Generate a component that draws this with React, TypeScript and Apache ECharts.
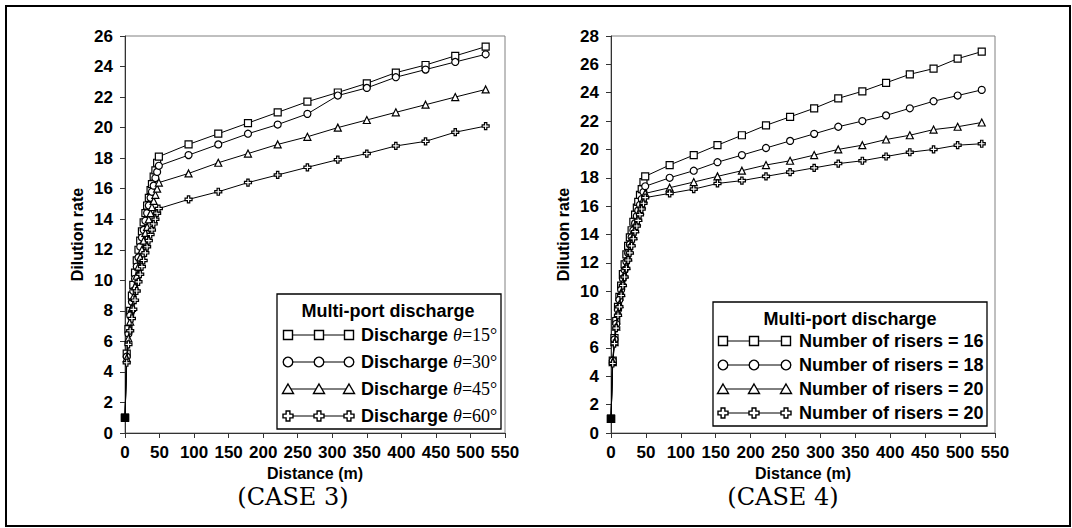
import React, { useEffect, useRef } from "react";
import * as echarts from "echarts";

// ---------- DATA ----------
const case3Distance = [0, 2.5, 5, 7.5, 10, 12, 14.5, 17, 19.5, 22, 24.5, 27, 29.5, 32, 34.5, 37, 39, 41.5, 44, 46.5, 49, 92, 135, 178, 221, 264, 308, 350, 392, 435, 478, 522];
const case3Theta15 = [1, 5.2, 6.8, 8.0, 9.0, 9.7, 10.5, 11.3, 12.0, 12.6, 13.2, 13.8, 14.4, 14.9, 15.4, 15.9, 16.3, 16.8, 17.2, 17.7, 18.1, 18.9, 19.6, 20.3, 21.0, 21.7, 22.3, 22.9, 23.6, 24.1, 24.7, 25.3];
const case3Theta30 = [1, 5.0, 6.5, 7.7, 8.6, 9.3, 10.1, 10.9, 11.5, 12.2, 12.8, 13.3, 13.9, 14.4, 14.9, 15.4, 15.8, 16.2, 16.7, 17.1, 17.5, 18.2, 18.9, 19.6, 20.2, 20.9, 22.1, 22.6, 23.3, 23.8, 24.3, 24.8];
const case3Theta45 = [1, 4.9, 6.2, 7.3, 8.2, 8.9, 9.6, 10.3, 10.9, 11.5, 12.0, 12.6, 13.1, 13.5, 14.0, 14.4, 14.8, 15.2, 15.6, 16.0, 16.4, 17.0, 17.7, 18.3, 18.9, 19.4, 20.0, 20.5, 21.0, 21.5, 22.0, 22.5];
const case3Theta60 = [1, 4.6, 5.8, 6.7, 7.5, 8.1, 8.7, 9.3, 9.9, 10.4, 10.9, 11.3, 11.8, 12.2, 12.6, 13.0, 13.3, 13.7, 14.0, 14.4, 14.7, 15.3, 15.8, 16.4, 16.9, 17.4, 17.9, 18.3, 18.8, 19.1, 19.7, 20.1];

const case4Distance = [0, 2.5, 5, 7.5, 10, 12, 14.5, 17, 19.5, 22, 24.5, 27, 29.5, 32, 34.5, 37, 39, 41.5, 44, 46.5, 49, 84, 118.5, 152.5, 187.5, 222, 256.5, 291, 325.5, 360, 394, 428, 462, 496.5, 531];
const case4Risers16 = [1, 5.1, 6.7, 7.9, 8.9, 9.6, 10.4, 11.2, 11.9, 12.6, 13.2, 13.8, 14.3, 14.9, 15.4, 15.9, 16.3, 16.8, 17.2, 17.7, 18.1, 18.9, 19.6, 20.3, 21.0, 21.7, 22.3, 22.9, 23.6, 24.1, 24.7, 25.3, 25.7, 26.4, 26.9];
const case4Risers18 = [1, 5.1, 6.6, 7.7, 8.7, 9.4, 10.1, 10.9, 11.5, 12.1, 12.7, 13.3, 13.8, 14.3, 14.8, 15.3, 15.7, 16.1, 16.5, 17.0, 17.4, 18.0, 18.5, 19.1, 19.6, 20.1, 20.6, 21.1, 21.6, 22.0, 22.4, 22.9, 23.4, 23.8, 24.2];
const case4Risers20a = [1, 5.0, 6.4, 7.5, 8.5, 9.1, 9.9, 10.6, 11.2, 11.8, 12.4, 12.9, 13.4, 13.9, 14.4, 14.9, 15.2, 15.7, 16.1, 16.5, 16.9, 17.3, 17.7, 18.1, 18.5, 18.9, 19.2, 19.6, 20.0, 20.3, 20.7, 21.0, 21.4, 21.6, 21.9];
const case4Risers20b = [1, 4.9, 6.3, 7.4, 8.3, 8.9, 9.7, 10.4, 11.0, 11.6, 12.2, 12.7, 13.2, 13.7, 14.2, 14.6, 15.0, 15.4, 15.8, 16.2, 16.6, 16.9, 17.2, 17.6, 17.8, 18.1, 18.4, 18.7, 19.0, 19.2, 19.5, 19.8, 20.0, 20.3, 20.4];

const case3Angles = ["15", "30", "45", "60"];
const case4Labels = ["Number of risers = 16", "Number of risers = 18", "Number of risers = 20", "Number of risers = 20"];
const legendTitle = "Multi-port discharge";
const xAxisName = "Distance (m)";
const yAxisName = "Dilution rate";
const captions = ["(CASE 3)", "(CASE 4)"];

// ---------- STYLE ----------
const SANS = '"Liberation Sans", Arial, sans-serif';
const SERIF = '"Liberation Serif", "Times New Roman", serif';
const PLUS_PATH = "path://M4,0 L8,0 L8,4 L12,4 L12,8 L8,8 L8,12 L4,12 L4,8 L0,8 L0,4 L4,4 Z";
const SYMBOLS = ["rect", "circle", "triangle", PLUS_PATH];

function buildSeries(xs: number[], ys: number[], idx: number, axisIdx: number) {
  const data = xs.map((x, i) =>
    i === 0
      ? { value: [x, ys[i]], symbol: "rect", symbolSize: 7, itemStyle: { color: "#000", borderColor: "#000" } }
      : { value: [x, ys[i]] }
  );
  return {
    type: "line",
    xAxisIndex: axisIdx,
    yAxisIndex: axisIdx,
    data,
    symbol: SYMBOLS[idx],
    symbolSize: 7,
    showAllSymbol: true,
    lineStyle: { color: "#000", width: 1 },
    itemStyle: { color: "#fff", borderColor: "#000", borderWidth: 1.2 },
    z: 3 + idx,
    silent: true,
  };
}

function legendSymbol(kind: number, cx: number, cy: number) {
  const st = { fill: "#fff", stroke: "#000", lineWidth: 1.4 };
  if (kind === 0) return { type: "rect", shape: { x: cx - 4.5, y: cy - 4.5, width: 9, height: 9 }, style: st, z: 101 };
  if (kind === 1) return { type: "circle", shape: { cx, cy, r: 4.8 }, style: st, z: 101 };
  if (kind === 2)
    return { type: "polygon", shape: { points: [[cx, cy - 5], [cx + 5.5, cy + 4.5], [cx - 5.5, cy + 4.5]] }, style: st, z: 101 };
  const h = 5, a = 1.9;
  return {
    type: "polygon",
    shape: {
      points: [
        [cx - a, cy - h], [cx + a, cy - h], [cx + a, cy - a], [cx + h, cy - a], [cx + h, cy + a], [cx + a, cy + a],
        [cx + a, cy + h], [cx - a, cy + h], [cx - a, cy + a], [cx - h, cy + a], [cx - h, cy - a], [cx - a, cy - a],
      ],
    },
    style: st,
    z: 101,
  };
}

function buildLegend(
  box: { x: number; y: number; w: number; h: number },
  titleX: number,
  titleY: number,
  rowsY: number[],
  symX: number[],
  textX: number,
  texts: any[]
) {
  const els: any[] = [];
  els.push({
    type: "rect",
    shape: { x: box.x, y: box.y, width: box.w, height: box.h },
    style: { fill: "#fff", stroke: "#000", lineWidth: 1.3 },
    z: 100,
  });
  els.push({
    type: "text",
    x: titleX,
    y: titleY,
    style: { text: legendTitle, font: `bold 18px ${SANS}`, fill: "#000", textAlign: "center", textVerticalAlign: "middle" },
    z: 101,
  });
  rowsY.forEach((ry, i) => {
    els.push({
      type: "line",
      shape: { x1: symX[0], y1: ry, x2: symX[2], y2: ry },
      style: { stroke: "#000", lineWidth: 1 },
      z: 101,
    });
    symX.forEach((sx) => els.push(legendSymbol(i, sx, ry)));
    els.push({ type: "text", x: textX, y: ry, style: { ...texts[i], textAlign: "left", textVerticalAlign: "middle" }, z: 101 });
  });
  return els;
}

const axisFont = { color: "#000", fontFamily: SANS, fontWeight: "bold", fontSize: 16 };
const tickFont = { color: "#000", fontFamily: SANS, fontWeight: "bold", fontSize: 17 };

function xAxisOf(gridIndex: number) {
  return {
    gridIndex,
    type: "value",
    min: 0,
    max: 550,
    interval: 50,
    name: xAxisName,
    nameLocation: "middle",
    nameGap: 30,
    nameTextStyle: { ...axisFont },
    axisLine: { show: true, onZero: false, lineStyle: { color: "#333", width: 1 } },
    axisTick: { show: true, length: 5, lineStyle: { color: "#333" } },
    axisLabel: { ...tickFont, margin: 11, hideOverlap: false },
    splitLine: { show: false },
  };
}
function yAxisOf(gridIndex: number, max: number) {
  return {
    gridIndex,
    type: "value",
    min: 0,
    max,
    interval: 2,
    name: yAxisName,
    nameLocation: "middle",
    nameGap: 40,
    nameTextStyle: { ...axisFont },
    axisLine: { show: true, onZero: false, lineStyle: { color: "#333", width: 1 } },
    axisTick: { show: true, length: 5, lineStyle: { color: "#333" } },
    axisLabel: { ...tickFont, margin: 12, hideOverlap: false },
    splitLine: { show: false },
  };
}

export default function App() {
  const ref = useRef<HTMLDivElement>(null);
  useEffect(() => {
    if (!ref.current) return;
    const chart = echarts.init(ref.current, null, { renderer: "svg" });

    const case3Texts = case3Angles.map((a) => ({
      text: `{a|Discharge }{b|θ}{c|=${a}°}`,
      rich: {
        a: { font: `bold 18px ${SANS}`, fill: "#000" },
        b: { font: `italic 18px ${SERIF}`, fill: "#000" },
        c: { font: `18px ${SERIF}`, fill: "#000" },
      },
    }));
    const case4Texts = case4Labels.map((t) => ({ text: t, font: `bold 18px ${SANS}`, fill: "#000" }));

    const graphics: any[] = [
      {
        type: "rect",
        shape: { x: 6, y: 6, width: 1064, height: 520 },
        style: { fill: "none", stroke: "#000", lineWidth: 2 },
        z: 0,
      },
      ...buildLegend({ x: 277, y: 294, w: 224, h: 135 }, 388, 311, [335, 362, 389, 416], [288, 319, 349], 361, case3Texts),
      ...buildLegend({ x: 713, y: 302, w: 274, h: 124 }, 850, 319, [341, 365, 389, 413], [723, 754, 786], 799, case4Texts),
      {
        type: "text",
        x: 293,
        y: 497,
        style: { text: captions[0], font: `24px "DejaVu Serif", serif`, fill: "#000", textAlign: "center", textVerticalAlign: "middle" },
      },
      {
        type: "text",
        x: 783,
        y: 497,
        style: { text: captions[1], font: `24px "DejaVu Serif", serif`, fill: "#000", textAlign: "center", textVerticalAlign: "middle" },
      },
    ];

    chart.setOption({
      animation: false,
      backgroundColor: "#fff",
      grid: [
        { left: 125, top: 36, width: 380, height: 397, show: true, borderColor: "#808080", borderWidth: 1, backgroundColor: "transparent", containLabel: false, outerBoundsMode: "none" },
        { left: 611, top: 36, width: 384, height: 397, show: true, borderColor: "#808080", borderWidth: 1, backgroundColor: "transparent", containLabel: false, outerBoundsMode: "none" },
      ],
      xAxis: [xAxisOf(0), xAxisOf(1)],
      yAxis: [yAxisOf(0, 26), yAxisOf(1, 28)],
      series: [
        buildSeries(case3Distance, case3Theta15, 0, 0),
        buildSeries(case3Distance, case3Theta30, 1, 0),
        buildSeries(case3Distance, case3Theta45, 2, 0),
        buildSeries(case3Distance, case3Theta60, 3, 0),
        buildSeries(case4Distance, case4Risers16, 0, 1),
        buildSeries(case4Distance, case4Risers18, 1, 1),
        buildSeries(case4Distance, case4Risers20a, 2, 1),
        buildSeries(case4Distance, case4Risers20b, 3, 1),
      ],
      graphic: graphics,
    });
    return () => chart.dispose();
  }, []);
  return (
    <div
      ref={ref}
      style={{ position: "fixed", left: 0, top: 0, width: 1072, height: 528, background: "#fff" }}
    />
  );
}
